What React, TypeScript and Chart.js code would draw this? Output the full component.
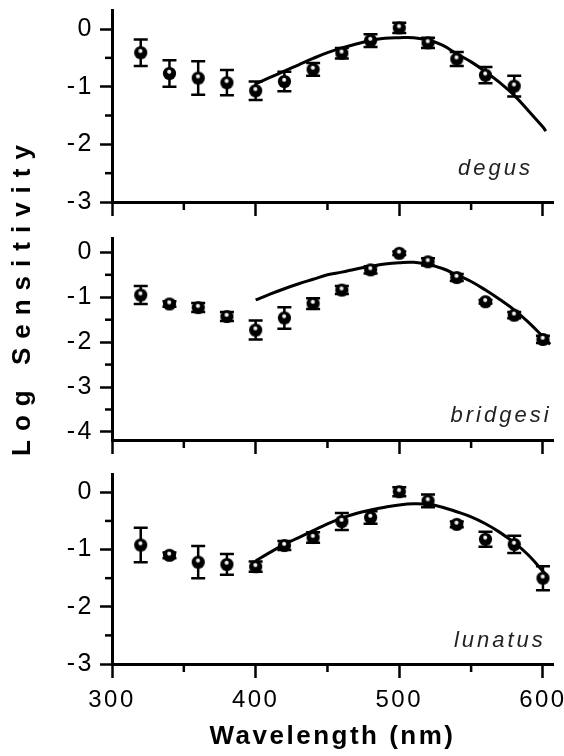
import React, { useEffect, useRef } from "react";
import { Chart, registerables } from "chart.js";

Chart.register(...registerables);

// ---------- data ----------
const X_TICKS = [300, 350, 400, 450, 500, 550, 600];

const DEGUS_WL = [320, 340, 360, 380, 400, 420, 440, 460, 480, 500, 520, 540, 560, 580];
const DEGUS_VAL = [-0.41, -0.77, -0.85, -0.93, -1.07, -0.91, -0.70, -0.42, -0.20, 0.02, -0.24, -0.52, -0.80, -0.99];
const DEGUS_ERR = [0.23, 0.23, 0.29, 0.22, 0.16, 0.17, 0.11, 0.09, 0.11, 0.09, 0.09, 0.12, 0.14, 0.18];
const DEGUS_FIT_WL = [400, 410, 420, 430, 440, 450, 460, 470, 480, 490, 500, 510, 520, 530, 540, 550, 560, 570, 580, 590, 600, 602];
const DEGUS_FIT = [-0.95, -0.84, -0.73, -0.62, -0.51, -0.41, -0.33, -0.26, -0.20, -0.16, -0.15, -0.15, -0.19, -0.28, -0.43, -0.57, -0.74, -0.93, -1.15, -1.42, -1.70, -1.77];

const BRIDGESI_WL = [320, 340, 360, 380, 400, 420, 440, 460, 480, 500, 520, 540, 560, 580, 600];
const BRIDGESI_VAL = [-0.95, -1.15, -1.23, -1.43, -1.73, -1.46, -1.14, -0.84, -0.39, -0.02, -0.21, -0.56, -1.10, -1.40, -1.94];
const BRIDGESI_ERR = [0.2, 0.06, 0.1, 0.1, 0.21, 0.24, 0.12, 0.09, 0.08, 0.04, 0.08, 0.08, 0.04, 0.07, 0.08];
const BRIDGESI_FIT_WL = [400, 410, 420, 430, 440, 450, 460, 470, 480, 490, 500, 510, 520, 530, 540, 550, 560, 570, 580, 590, 600, 605];
const BRIDGESI_FIT = [-1.06, -0.93, -0.81, -0.70, -0.60, -0.50, -0.44, -0.37, -0.31, -0.26, -0.23, -0.22, -0.27, -0.36, -0.50, -0.65, -0.84, -1.05, -1.28, -1.56, -1.88, -2.05];

const LUNATUS_WL = [320, 340, 360, 380, 400, 420, 440, 460, 480, 500, 520, 540, 560, 580, 600];
const LUNATUS_VAL = [-0.92, -1.10, -1.22, -1.26, -1.30, -0.93, -0.79, -0.51, -0.44, 0.01, -0.15, -0.56, -0.82, -0.91, -1.50];
const LUNATUS_ERR = [0.30, 0.05, 0.28, 0.18, 0.09, 0.08, 0.09, 0.15, 0.11, 0.08, 0.11, 0.05, 0.13, 0.15, 0.21];
const LUNATUS_FIT_WL = [400, 410, 420, 430, 440, 450, 460, 470, 480, 490, 500, 510, 520, 530, 540, 550, 560, 570, 580, 590, 600, 603];
const LUNATUS_FIT = [-1.20, -1.05, -0.91, -0.79, -0.67, -0.55, -0.45, -0.37, -0.31, -0.26, -0.22, -0.20, -0.21, -0.26, -0.34, -0.43, -0.55, -0.70, -0.88, -1.10, -1.38, -1.47];

const Y_TICKS_3 = [0, -0.5, -1, -1.5, -2, -2.5, -3];
const Y_TICKS_4 = [0, -0.5, -1, -1.5, -2, -2.5, -3, -3.5, -4];

// ---------- layout / style ----------
const W = 564;
const Y_AXIS_W = 112;
const FONT = "'Liberation Sans', Arial, sans-serif";

type Panel = {
  name: string;
  wl: number[];
  val: number[];
  err: number[];
  fitWl: number[];
  fit: number[];
  yMin: number;
  yMax: number;
  yTicks: number[];
  showX: boolean;
  canvasTop: number;
  canvasHeight: number;
  padTop: number;
  xAxisHeight: number;
  labelX: number;
  labelY: number;
};

const PANELS: Panel[] = [
  {
    name: "degus", wl: DEGUS_WL, val: DEGUS_VAL, err: DEGUS_ERR, fitWl: DEGUS_FIT_WL, fit: DEGUS_FIT,
    yMin: -3, yMax: 0.33, yTicks: Y_TICKS_3, showX: false,
    canvasTop: 0, canvasHeight: 228, padTop: 10, xAxisHeight: 26, labelX: 593, labelY: -2.53,
  },
  {
    name: "bridgesi", wl: BRIDGESI_WL, val: BRIDGESI_VAL, err: BRIDGESI_ERR, fitWl: BRIDGESI_FIT_WL, fit: BRIDGESI_FIT,
    yMin: -4.18, yMax: 0.32, yTicks: Y_TICKS_4, showX: false,
    canvasTop: 228, canvasHeight: 240, padTop: 10, xAxisHeight: 28, labelX: 606, labelY: -3.77,
  },
  {
    name: "lunatus", wl: LUNATUS_WL, val: LUNATUS_VAL, err: LUNATUS_ERR, fitWl: LUNATUS_FIT_WL, fit: LUNATUS_FIT,
    yMin: -3, yMax: 0.32, yTicks: Y_TICKS_3, showX: true,
    canvasTop: 468, canvasHeight: 288, padTop: 6, xAxisHeight: 92, labelX: 602, labelY: -2.7,
  },
];

function makeBall(): HTMLCanvasElement {
  const c = document.createElement("canvas");
  c.width = 15;
  c.height = 15;
  const g = c.getContext("2d")!;
  g.fillStyle = "#000";
  g.beginPath();
  g.arc(7.5, 7.5, 6.6, 0, Math.PI * 2);
  g.fill();
  const rg = g.createRadialGradient(7.2, 5.8, 0, 7.2, 5.8, 2.6);
  rg.addColorStop(0, "rgba(255,255,255,1)");
  rg.addColorStop(0.55, "rgba(255,255,255,0.9)");
  rg.addColorStop(1, "rgba(255,255,255,0)");
  g.fillStyle = rg;
  g.beginPath();
  g.arc(7.2, 5.8, 2.6, 0, Math.PI * 2);
  g.fill();
  return c;
}

const panelPlugin = {
  id: "panelExtras",
  beforeDraw(chart: any) {
    chart.ctx.letterSpacing = "2.5px";
  },
  beforeDatasetsDraw(chart: any) {
    const ctx = chart.ctx;
    const xs = chart.scales.x;
    const ys = chart.scales.y;
    const ds = chart.data.datasets[0] as any;
    const errs: number[] = ds.errorBars || [];
    ctx.save();
    ctx.strokeStyle = "#000";
    ctx.lineWidth = 2.5;
    ds.data.forEach((pt: any, i: number) => {
      const e = errs[i];
      if (e == null) return;
      const x = xs.getPixelForValue(pt.x);
      const y1 = ys.getPixelForValue(pt.y + e);
      const y2 = ys.getPixelForValue(pt.y - e);
      ctx.beginPath();
      ctx.moveTo(x, y1);
      ctx.lineTo(x, y2);
      ctx.moveTo(x - 7, y1);
      ctx.lineTo(x + 7, y1);
      ctx.moveTo(x - 7, y2);
      ctx.lineTo(x + 7, y2);
      ctx.stroke();
    });
    // minor ticks
    ctx.lineWidth = 2.5;
    xs.ticks.forEach((t: any) => {
      if (t.value % 100 === 0) return;
      const x = xs.getPixelForValue(t.value);
      ctx.beginPath();
      ctx.moveTo(x, xs.top);
      ctx.lineTo(x, xs.top + 8);
      ctx.stroke();
    });
    ys.ticks.forEach((t: any) => {
      if (Number.isInteger(t.value)) return;
      const y = ys.getPixelForValue(t.value);
      ctx.beginPath();
      ctx.moveTo(ys.right, y);
      ctx.lineTo(ys.right - 7, y);
      ctx.stroke();
    });
    ctx.restore();
  },
  afterDraw(chart: any) {
    const opts = chart.options.plugins.panelExtras || {};
    const ctx = chart.ctx;
    ctx.save();
    ctx.letterSpacing = "3px";
    ctx.fillStyle = "#222";
    ctx.font = `italic 22px ${FONT}`;
    ctx.textAlign = "right";
    ctx.textBaseline = "alphabetic";
    ctx.fillText(
      opts.label,
      chart.scales.x.getPixelForValue(opts.labelX),
      chart.scales.y.getPixelForValue(opts.labelY)
    );
    ctx.restore();
    ctx.letterSpacing = "0px";
  },
};

function PanelChart({ p }: { p: Panel }) {
  const ref = useRef<HTMLCanvasElement | null>(null);
  useEffect(() => {
    if (!ref.current) return;
    const ball = makeBall();
    const chart = new Chart(ref.current, {
      type: "scatter",
      data: {
        datasets: [
          {
            type: "scatter",
            label: p.name,
            data: p.wl.map((x, i) => ({ x, y: p.val[i] })),
            pointStyle: ball as any,
            pointRadius: 7,
            clip: false,
            errorBars: p.err,
          } as any,
          {
            type: "line",
            label: p.name + " fit",
            data: p.fitWl.map((x, i) => ({ x, y: p.fit[i] })),
            borderColor: "#000",
            borderWidth: 3,
            pointRadius: 0,
            tension: 0.4,
            fill: false,
            clip: false,
          } as any,
        ],
      },
      options: {
        responsive: false,
        animation: false,
        devicePixelRatio: 1,
        events: [],
        layout: {
          autoPadding: false,
          padding: { left: 0, top: p.padTop, right: 11, bottom: 0 },
        },
        plugins: {
          legend: { display: false },
          tooltip: { enabled: false },
          panelExtras: { label: p.name, labelX: p.labelX, labelY: p.labelY },
        } as any,
        scales: {
          x: {
            type: "linear",
            min: 300,
            max: 607,
            afterBuildTicks: (s: any) => {
              s.ticks = X_TICKS.map((v) => ({ value: v }));
            },
            afterFit: (s: any) => {
              s.height = p.xAxisHeight;
              s.paddingLeft = 0;
              s.paddingRight = 0;
            },
            border: { display: true, color: "#000", width: 3 },
            grid: {
              display: true,
              drawOnChartArea: false,
              drawTicks: true,
              tickLength: 14,
              tickWidth: 2.5,
              tickColor: (c: any) =>
                c.tick && c.tick.value % 100 === 0 ? "#000" : "rgba(0,0,0,0)",
            },
            ticks: {
              display: p.showX,
              autoSkip: false,
              maxRotation: 0,
              padding: 8,
              color: "#000",
              font: { family: FONT, size: 24 },
              callback: (v: any) => (Number(v) % 100 === 0 ? String(v) : ""),
            },
            title: {
              display: p.showX,
              text: "Wavelength (nm)",
              color: "#000",
              font: { family: FONT, size: 26, weight: "bold" },
              padding: { top: 0, bottom: 4 },
            },
          },
          y: {
            type: "linear",
            min: p.yMin,
            max: p.yMax,
            afterBuildTicks: (s: any) => {
              s.ticks = p.yTicks.map((v) => ({ value: v }));
            },
            afterFit: (s: any) => {
              s.width = Y_AXIS_W;
              s.paddingTop = 0;
              s.paddingBottom = 0;
            },
            border: { display: true, color: "#000", width: 3 },
            grid: {
              display: true,
              drawOnChartArea: false,
              drawTicks: true,
              tickLength: 12,
              tickWidth: 2.5,
              tickColor: (c: any) =>
                c.tick && Number.isInteger(c.tick.value) ? "#000" : "rgba(0,0,0,0)",
            },
            ticks: {
              autoSkip: false,
              padding: 6,
              color: "#000",
              font: { family: FONT, size: 25 },
              callback: (v: any) => (Number.isInteger(Number(v)) ? String(v) : ""),
            },
          },
        },
      },
      plugins: [panelPlugin],
    } as any);
    return () => chart.destroy();
  }, [p]);
  return (
    <canvas
      ref={ref}
      width={W}
      height={p.canvasHeight}
      style={{
        position: "absolute",
        left: 0,
        top: p.canvasTop,
        width: W,
        height: p.canvasHeight,
        display: "block",
      }}
    />
  );
}

export default function App() {
  return (
    <div
      style={{
        position: "absolute",
        left: 0,
        top: 0,
        width: W,
        height: 756,
        overflow: "hidden",
        background: "#fff",
      }}
    >
      {PANELS.map((p) => (
        <PanelChart key={p.name} p={p} />
      ))}
      <div
        style={{
          position: "absolute",
          left: 21 - 200,
          top: 296 - 15,
          width: 400,
          height: 30,
          lineHeight: "30px",
          textAlign: "center",
          transform: "rotate(-90deg)",
          fontFamily: FONT,
          fontWeight: "bold",
          fontSize: 26,
          letterSpacing: "9px",
          color: "#000",
          whiteSpace: "nowrap",
        }}
      >
        Log Sensitivity
      </div>
    </div>
  );
}
